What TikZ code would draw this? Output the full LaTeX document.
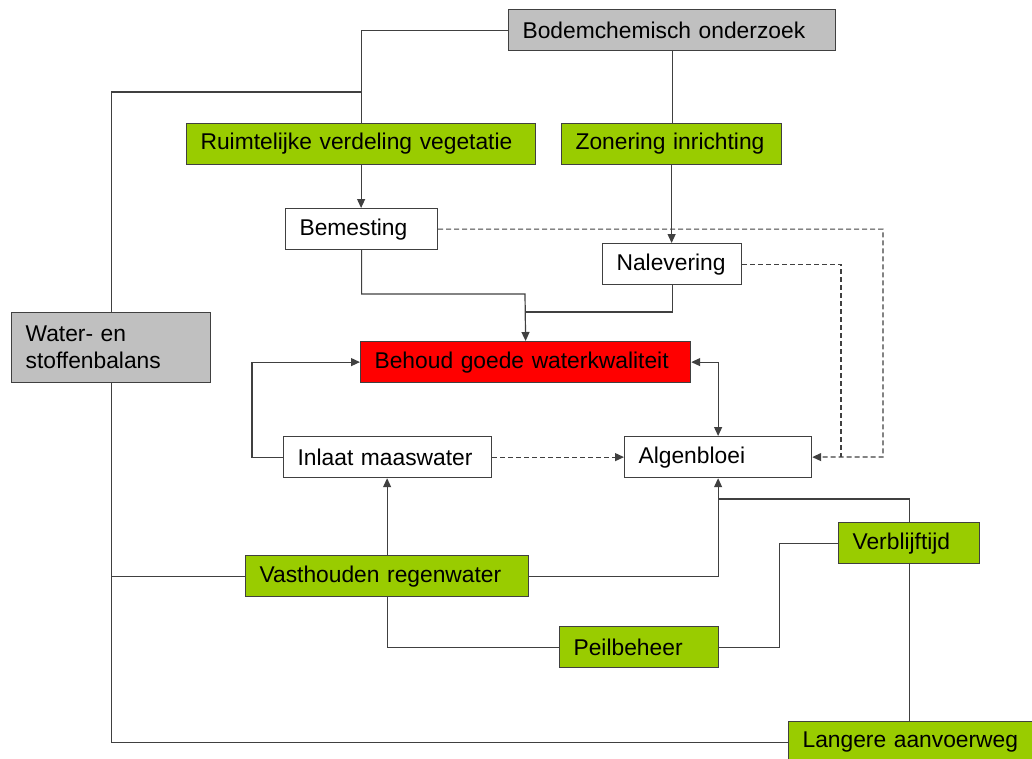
\documentclass[tikz,border=0pt]{standalone}
\usepackage{fontspec}
\setmainfont{Liberation Sans}
\usetikzlibrary{arrows.meta}
\definecolor{grijs}{HTML}{C0C0C0}
\definecolor{groen}{HTML}{99CC00}
\definecolor{rood}{HTML}{FF0000}
\definecolor{lijn}{HTML}{404040}

\begin{document}
\begin{tikzpicture}[x=1pt,y=-1pt,
    blok/.style={draw=lijn,line width=1.2pt,anchor=north west,minimum height=41pt,
      inner xsep=14pt,inner ysep=0pt,align=left,font=\fontsize{22.8}{27}\selectfont},
    grijsblok/.style={blok,fill=grijs},
    groenblok/.style={blok,fill=groen},
    lijnen/.style={draw=lijn,line width=1.2pt},
    streep/.style={lijnen,dash pattern=on 5pt off 3pt},
    >={Triangle[length=9pt,width=8pt]}]
\useasboundingbox (0,0) rectangle (1032,758);

\node[grijsblok,text width=299pt] (bodem) at (508,9) {Bodemchemisch onderzoek};
\node[groenblok,text width=321pt] (ruimte) at (186,123) {Ruimtelijke verdeling vegetatie};
\node[groenblok,text width=192pt] (zonering) at (561,123) {Zonering inrichting};
\node[blok,text width=124pt] (bemesting) at (285,208) {Bemesting};
\node[blok,text width=111pt] (nalevering) at (602,243) {Nalevering};
\node[grijsblok,text width=171pt,minimum height=70pt] (balans) at (11,312) {Water- en\\stoffenbalans};
\node[blok,fill=rood,text width=302pt] (behoud) at (360,341) {Behoud goede waterkwaliteit};
\node[blok,text width=180pt] (inlaat) at (283,436) {Inlaat maaswater};
\node[blok,text width=159pt] (algen) at (624,436) {Algenbloei};
\node[groenblok,text width=255pt] (vasthouden) at (245,555) {Vasthouden regenwater};
\node[groenblok,text width=113pt] (verblijf) at (838,522) {Verblijftijd};
\node[groenblok,text width=131pt] (peil) at (559,626) {Peilbeheer};
\node[groenblok,text width=232pt] (langer) at (788,721) {Langere aanvoerweg};

\coordinate (tak) at (360.5,92);
\coordinate (samen) at (525,294);
\coordinate (samen2) at (525,312);
\coordinate (rechts1) at (883,457);
\coordinate (rechts2) at (841,457);
\coordinate (boven) at (717.5,499);

\draw[lijnen] (bodem.west) -| (ruimte.north);
\draw[lijnen] (tak) -| (balans.north);
\draw[lijnen] (balans.south) |- (langer.west);
\draw[lijnen] (balans.south |- vasthouden.west) -- (vasthouden.west);
\draw[lijnen] (bodem.south) -- (bodem.south |- zonering.north);
\draw[lijnen] (nalevering.south) |- (samen2);
\draw[lijnen] (verblijf.north) |- (boven);
\draw[lijnen] (vasthouden.south) |- (peil.west);
\draw[lijnen] (verblijf.south) -- (verblijf.south |- langer.north);
\draw[lijnen] (peil.east) -- ++(60,0) |- (verblijf.west);
\draw[lijnen,->] (ruimte.south) -- (ruimte.south |- bemesting.north);
\draw[lijnen,->] (zonering.south) -- (zonering.south |- nalevering.north);
\draw[lijnen,->] (bemesting.south) |- (samen) -- (behoud.north);
\draw[lijnen,<->] (behoud.east) -| (algen.north);
\draw[lijnen,->] (inlaat.west) -- ++(-31,0) |- (behoud.west);
\draw[lijnen,->] (vasthouden.north) -- (vasthouden.north |- inlaat.south);
\draw[lijnen,->] (vasthouden.east) -| (algen.south);
\draw[streep,->] (inlaat.east) -- (algen.west);
\draw[streep,->] (bemesting.east) -| (rechts1) -- (algen.east);
\draw[streep] (nalevering.east) -| (rechts2);
\end{tikzpicture}
\end{document}
